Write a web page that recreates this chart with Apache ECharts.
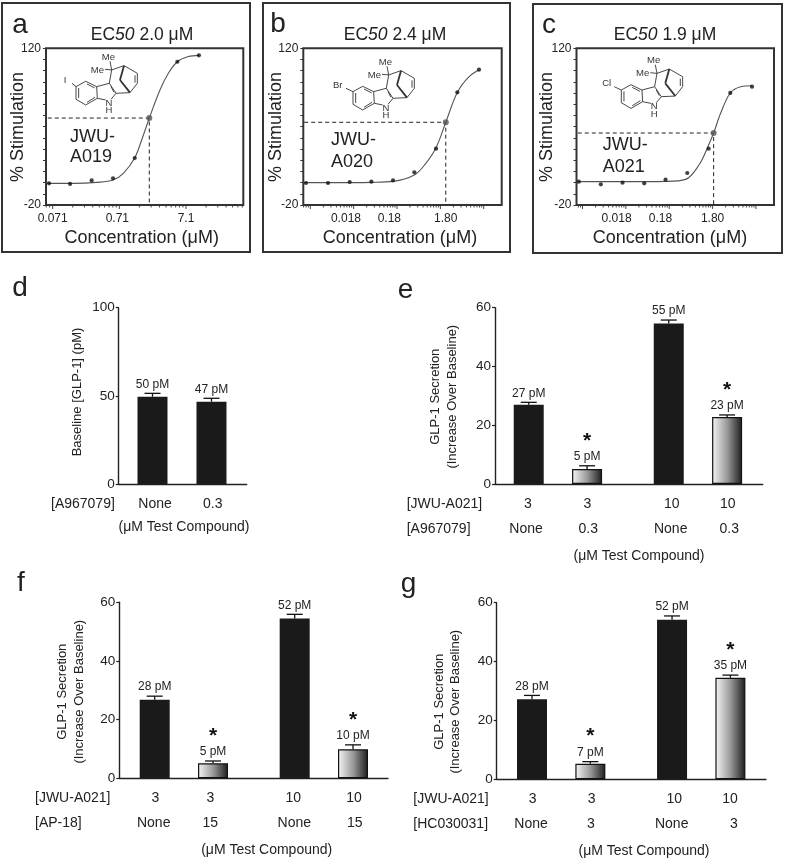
<!DOCTYPE html>
<html><head><meta charset="utf-8">
<style>html,body{margin:0;padding:0;background:#fff}#c{width:787px;height:861px}</style>
<script src="https://cdn.jsdelivr.net/npm/echarts@6/dist/echarts.min.js"></script>
</head><body><div id="c"></div>
<script>
// ---- dose-response data (panels a, b, c)
const aPointConc=[0.0626,0.1295,0.273,0.571,1.21,2.0,5.27,11.1];
const aPointResp=[-0.6,-1.2,2,3.8,22,57.7,108,113.7];
const aCurveConc=[0.0564,0.145,0.3245,0.5705,0.815,1.206,1.536,2.0,2.89,3.86,5.26,7.7,11.1];
const aCurveResp=[-0.65,-0.65,0.25,2.3,8.3,22,38.1,57.7,82.7,97.7,108,112.6,113.7];
const bPointConc=[0.00143,0.00461,0.01456,0.0461,0.1456,0.452,1.43,2.4,4.44,14.0];
const bPointResp=[-0.35,-0.35,0.55,0.85,2,9.2,30.3,53.9,80.7,100.9];
const bCurveConc=[0.00124,0.00611,0.0461,0.1456,0.452,0.797,1.43,2.4,4.44,7.97,14.0];
const bCurveResp=[-0.05,-0.05,0.25,1.1,6.8,16.3,31.2,53.9,80.7,94.1,100.9];
const cPointConc=[0.00148,0.00477,0.01508,0.0477,0.148,0.468,1.456,1.9,4.6,14.56];
const cPointResp=[0.84,-1.5,-0.05,-0.65,2.6,8.6,30.3,44.3,80.1,85.7];
const cCurveConc=[0.00131,0.01356,0.148,0.429,0.871,1.456,1.9,2.75,4.6,7.97,14.56];
const cCurveResp=[0.84,0.84,1.1,2.9,15.7,33.6,44.3,61.9,80.1,85.7,86.6];
const aEC50=[2.0,57.7], bEC50=[2.4,53.9], cEC50=[1.9,44.3];
const aTickLabels=['0.071','0.71','7.1'], aTickValues=[0.071,0.71,7.1];
const bcTickLabels=['0.018','0.18','1.80'], bcTickValues=[0.018,0.18,1.8];
// ---- GLP-1 secretion data (panels d, e, f, g)
const dValues=[49.6,46.8], dErrTop=[51.5,48.7], dLabels=['50 pM','47 pM'];
const eValues=[27,5.1,54.6,22.8], eErrTop=[27.8,6.2,55.8,23.5], eLabels=['27 pM','5 pM','55 pM','23 pM'];
const fValues=[26.8,5.1,54.5,9.9], fErrTop=[28,5.9,55.9,11.4], fLabels=['28 pM','5 pM','52 pM','10 pM'];
const gValues=[27.2,5.3,54.2,34.5], gErrTop=[28.5,6,55.5,35.4], gLabels=['28 pM','7 pM','52 pM','35 pM'];
const dRow1=['None','0.3'];
const eRow1=['3','3','10','10'], eRow2=['None','0.3','None','0.3'];
const fRow1=['3','3','10','10'], fRow2=['None','15','None','15'];
const gRow1=['3','3','10','10'], gRow2=['None','3','None','3'];
const slots4=[1,2,3.4,4.4], slots2=[1,2];
const treated4=[false,true,false,true];

const FF='"Liberation Sans",Arial,sans-serif', INK='#222';
const minorMult=[2,3,4,5,6,7,8,9];
const chart=echarts.init(document.getElementById('c'),null,{renderer:'canvas'});
const grid=[],xAxis=[],yAxis=[],series=[],graphic=[];

function T(text,x,y,size,o){o=o||{};
  graphic.push({type:'text',x,y,rotation:o.rot||0,z:20,silent:true,
    style:{text,fontSize:size,fontFamily:FF,fill:o.fill||INK,fontWeight:o.w||'normal',
      align:o.align||'center',verticalAlign:'middle',rich:o.rich}});
}

// Molecule sketch: layout only, not data (offsets from the N atom)
const bondsSingle=[[[108,140],[137,124]],[[137,124],[170,140]],[[170,140],[172,175]],[[172,175],[137,195]],[[137,195],[108,178]],[[108,178],[108,140]],
  [[170,140],[208,130]],[[208,130],[228,160]],[[228,160],[213,178]],[[197,180],[172,175]],
  [[208,130],[215,90]],[[215,90],[252,77]],[[252,77],[292,100]],[[292,100],[292,130]],[[292,130],[270,158]],[[228,160],[270,158]],
  [[195,88],[215,90]],[[210,64],[215,90]]];
const bondsInner=[[[116,144],[116,174]],[[141,132],[164,144]],[[141,187],[165,172]],[[213,140],[222,157]],[[285,106],[285,128]]];
const bondsBold=[[[252,77],[240,120]],[[240,120],[270,158]]];
function molecule(nx,ny,hal,hx,hy,bx,by){
  const P=p=>[(p[0]-207)/3,(p[1]-190)/3];
  const kids=[];
  const add=(a,b,w)=>kids.push({type:'line',shape:{x1:P(a)[0],y1:P(a)[1],x2:P(b)[0],y2:P(b)[1]},style:{stroke:'#333',lineWidth:w},silent:true});
  bondsSingle.forEach(s=>add(s[0],s[1],0.9));
  bondsInner.forEach(s=>add(s[0],s[1],0.9));
  bondsBold.forEach(s=>add(s[0],s[1],1.8));
  kids.push({type:'line',shape:{x1:bx,y1:by,x2:P([108,140])[0],y2:P([108,140])[1]},style:{stroke:'#333',lineWidth:0.9},silent:true});
  const tx=(t,x,y)=>kids.push({type:'text',x,y,silent:true,style:{text:t,fontSize:9.5,fontFamily:FF,fill:'#333',align:'center',verticalAlign:'middle'}});
  tx('N',0,0);tx('H',0,7.5);
  tx('Me',P([205,52])[0],P([205,52])[1]);tx('Me',P([172,90])[0],P([172,90])[1]);
  tx(hal,hx,hy);
  graphic.push({type:'group',x:nx,y:ny,z:15,silent:true,children:kids});
}

function dosePanel(o){
  const i=grid.length;
  grid.push({left:o.left,top:48.3,width:o.right-o.left,height:156.7,show:true,borderColor:'#333',borderWidth:2,backgroundColor:'transparent'});
  xAxis.push({type:'log',logBase:10,gridIndex:i,min:o.xMin,max:o.xMax,axisLine:{show:false,onZero:false},axisTick:{show:false},axisLabel:{show:false},splitLine:{show:false},minorTick:{show:false}});
  yAxis.push({type:'value',gridIndex:i,min:-20,max:120,interval:10,axisLine:{show:false,onZero:false},splitLine:{show:false},
    axisTick:{show:true,length:3,lineStyle:{color:'#333',width:1}},
    axisLabel:{margin:5,fontSize:12,fontFamily:FF,color:INK,formatter:v=>(v===120||v===-20)?String(v):''}});
  const base={xAxisIndex:i,yAxisIndex:i,animation:false,silent:true};
  series.push(Object.assign({},base,{type:'line',data:o.cx.map((c,k)=>[c,o.cy[k]]),smooth:0.35,showSymbol:false,symbol:'none',lineStyle:{color:'#555',width:1.1},z:3}));
  series.push(Object.assign({},base,{type:'line',data:[[o.dashFrom,o.ec[1]],[o.ec[0],o.ec[1]],[o.ec[0],-20]],symbol:'none',lineStyle:{color:'#222',width:1,type:[4,3]},z:2}));
  series.push(Object.assign({},base,{type:'scatter',data:o.px.map((c,k)=>({value:[c,o.py[k]],symbolSize:c===o.ec[0]?6:4.2,itemStyle:{color:c===o.ec[0]?'#555':'#111'}})),z:4}));
  // ticks on the log x axis, placed through its own scale
  const ticks=[];
  o.majors.forEach(v=>ticks.push([v,-20,1]));
  o.minorBases.forEach(b=>minorMult.forEach(m=>{const v=b*m;if(v>=o.xMin&&v<=o.xMax)ticks.push([v,-20,0]);}));
  series.push(Object.assign({},base,{type:'custom',data:ticks,clip:false,z:5,
    renderItem:(p,api)=>{const c=api.coord([api.value(0),-20]),L=api.value(2)?4:2.5;
      return {type:'line',shape:{x1:c[0],y1:c[1],x2:c[0],y2:c[1]+L},style:{stroke:'#333',lineWidth:0.9},silent:true};}}));
  series.push(Object.assign({},base,{type:'custom',data:o.labelVals.map(v=>[v,-20]),clip:false,z:5,
    renderItem:(p,api)=>{const c=api.coord([api.value(0),-20]);
      return {type:'text',x:c[0]+o.labelShift[p.dataIndex],y:218.3,silent:true,
        style:{text:o.labels[p.dataIndex],fontSize:12,fontFamily:FF,fill:INK,align:'center',verticalAlign:'middle'}};}}));
  graphic.push({type:'rect',shape:{x:o.frame[0],y:o.frame[1],width:o.frame[2]-o.frame[0],height:o.frame[3]-o.frame[1]},style:{fill:'none',stroke:'#333',lineWidth:2},z:1,silent:true});
  T(o.letter,o.letterX,o.letterY,28);
  T('EC{i|50} '+o.ecText+' μM',o.titleX,35,17.5,{rich:{i:{fontStyle:'italic',fontSize:17.5,fontFamily:FF,fill:INK}}});
  T('% Stimulation',o.yTitleX,127,18,{rot:Math.PI/2});
  T('Concentration (μM)',o.xTitleX,238.3,18);
  T('JWU-',o.nameX,o.nameY[0],18,{align:'left'});
  T(o.name,o.nameX,o.nameY[1],18,{align:'left'});
}

function barPanel(o){
  const i=grid.length;
  grid.push({left:o.left,top:o.top,width:o.right-o.left,height:o.bottom-o.top,show:false});
  xAxis.push({type:'value',gridIndex:i,min:o.xMin,max:o.xMax,axisLine:{show:true,onZero:false,lineStyle:{color:'#222',width:1.4}},axisTick:{show:false},axisLabel:{show:false},splitLine:{show:false}});
  yAxis.push({type:'value',gridIndex:i,min:0,max:o.yMax,interval:o.yStep,axisLine:{show:true,onZero:false,lineStyle:{color:'#222',width:1.4}},
    axisTick:{show:true,length:3,lineStyle:{color:'#222',width:1.2}},splitLine:{show:false},
    axisLabel:{margin:4,fontSize:13.5,fontFamily:FF,color:INK}});
  const base={xAxisIndex:i,yAxisIndex:i,animation:false,silent:true};
  const grad={type:'linear',x:0,y:0,x2:1,y2:0,colorStops:[{offset:0,color:'#f6f6f6'},{offset:0.5,color:'#9a9a9a'},{offset:1,color:'#1c1c1c'}]};
  series.push(Object.assign({},base,{type:'bar',barWidth:30,z:3,
    data:o.values.map((v,k)=>({value:[o.slots[k],v],itemStyle:o.treated&&o.treated[k]?{color:grad,borderColor:'#111',borderWidth:1.2}:{color:'#1a1a1a'}}))}));
  series.push(Object.assign({},base,{type:'custom',clip:false,z:4,
    data:o.values.map((v,k)=>[o.slots[k],v,o.err[k]]),
    renderItem:(p,api)=>{
      const k=p.dataIndex,b=api.coord([api.value(0),api.value(1)]),t=api.coord([api.value(0),api.value(2)]);
      const st={stroke:'#111',lineWidth:1.3};
      const ch=[{type:'line',shape:{x1:b[0],y1:b[1],x2:t[0],y2:t[1]},style:st},
        {type:'line',shape:{x1:t[0]-8,y1:t[1],x2:t[0]+8,y2:t[1]},style:st},
        {type:'text',x:t[0],y:t[1]-9,style:{text:o.labels[k],fontSize:12,fontFamily:FF,fill:INK,align:'center',verticalAlign:'middle'}}];
      if(o.treated&&o.treated[k]) ch.push({type:'text',x:t[0],y:t[1]-25,style:{text:'*',fontSize:21,fontWeight:'bold',fontFamily:FF,fill:'#111',align:'center',verticalAlign:'middle'}});
      return {type:'group',silent:true,children:ch};
    }}));
  T(o.letter,o.letterX,o.letterY,28);
  o.yTitle.forEach((s,k)=>T(s,o.yTitleX[k],o.yTitleY,13,{rot:Math.PI/2}));
  o.rows.forEach(r=>{T(r.name,o.rowLeft,r.y,14,{align:'left'});
    r.text.forEach((s,k)=>T(s,r.x[k],r.y,14));});
  T('(μM Test Compound)',o.noteX,o.noteY,14);
}

dosePanel({letter:'a',letterX:20,letterY:25,frame:[2,3,250,252],left:46,right:243.3,xMin:0.0564,xMax:51.4,
  px:aPointConc,py:aPointResp,cx:aCurveConc,cy:aCurveResp,ec:aEC50,dashFrom:0.0600,
  majors:aTickValues,minorBases:[0.0071,0.071,0.71,7.1],labels:aTickLabels,labelVals:aTickValues,labelShift:[0,-2,0],
  ecText:'2.0',titleX:142,yTitleX:18.3,xTitleX:141.7,name:'A019',nameX:70,nameY:[136.7,157.3]});
dosePanel({letter:'b',letterX:278,letterY:24,frame:[263,3,510,252],left:303.3,right:501.7,xMin:0.00124,xMax:46.8,
  px:bPointConc,py:bPointResp,cx:bCurveConc,cy:bCurveResp,ec:bEC50,dashFrom:0.00130,
  majors:[0.0018,0.018,0.18,1.8,18],minorBases:[0.00018,0.0018,0.018,0.18,1.8],labels:bcTickLabels,labelVals:bcTickValues,labelShift:[-7.7,-7.7,5.3],
  ecText:'2.4',titleX:395,yTitleX:275.7,xTitleX:400,name:'A020',nameX:331,nameY:[140,161.7]});
dosePanel({letter:'c',letterX:549,letterY:25,frame:[533,4,782,253],left:576.5,right:774,xMin:0.00131,xMax:46.8,
  px:cPointConc,py:cPointResp,cx:cCurveConc,cy:cCurveResp,ec:cEC50,dashFrom:0.00140,
  majors:[0.0018,0.018,0.18,1.8,18],minorBases:[0.00018,0.0018,0.018,0.18,1.8],labels:bcTickLabels,labelVals:bcTickValues,labelShift:[-9.3,-8.7,0],
  ecText:'1.9',titleX:665,yTitleX:547.3,xTitleX:670,name:'A021',nameX:602.7,nameY:[145,166.7]});
molecule(109,103.3,'I',-44,-22.6,-37,-20);
molecule(386,108.3,'Br',-48.3,-23.3,-40,-20);
molecule(654.3,106.7,'Cl',-47.6,-23.4,-40,-20);

barPanel({letter:'d',letterX:20,letterY:288,left:118.7,right:246.7,top:307.7,bottom:484.3,xMin:0.427,xMax:2.597,yMax:100,yStep:50,
  slots:slots2,values:dValues,err:dErrTop,labels:dLabels,
  yTitle:['Baseline [GLP-1] (pM)'],yTitleX:[77],yTitleY:392,rowLeft:51,
  rows:[{name:'[A967079]',y:504,text:dRow1,x:[155,212.7]}],noteX:184,noteY:527});
barPanel({letter:'e',letterX:405.5,letterY:290,left:495,right:762.7,top:307.7,bottom:484,xMin:0.422,xMax:5.01,yMax:60,yStep:20,
  slots:slots4,treated:treated4,values:eValues,err:eErrTop,labels:eLabels,
  yTitle:['GLP-1 Secretion','(Increase Over Baseline)'],yTitleX:[435.7,452],yTitleY:396.7,rowLeft:406.7,
  rows:[{name:'[JWU-A021]',y:504,text:eRow1,x:[528,587.3,671.7,727.7]},{name:'[A967079]',y:529,text:eRow2,x:[526,588.3,670.7,729.3]}],noteX:639,noteY:555.7});
barPanel({letter:'f',letterX:21,letterY:583,left:119.3,right:388,top:602.3,bottom:778.3,xMin:0.393,xMax:5.0,yMax:60,yStep:20,
  slots:slots4,treated:treated4,values:fValues,err:fErrTop,labels:fLabels,
  yTitle:['GLP-1 Secretion','(Increase Over Baseline)'],yTitleX:[62.3,79],yTitleY:691.7,rowLeft:35,
  rows:[{name:'[JWU-A021]',y:797.7,text:fRow1,x:[155.3,210.3,293.3,354]},{name:'[AP-18]',y:823.3,text:fRow2,x:[153.7,210.3,294.3,354.7]}],noteX:266.7,noteY:850});
barPanel({letter:'g',letterX:408.5,letterY:584.5,left:496.7,right:766,top:602.7,bottom:779.3,xMin:0.395,xMax:5.01,yMax:60,yStep:20,
  slots:slots4,treated:treated4,values:gValues,err:gErrTop,labels:gLabels,
  yTitle:['GLP-1 Secretion','(Increase Over Baseline)'],yTitleX:[439,455.7],yTitleY:701.7,rowLeft:413.3,
  rows:[{name:'[JWU-A021]',y:798.7,text:gRow1,x:[532.7,591.7,674.3,730]},{name:'[HC030031]',y:824.3,text:gRow2,x:[531,591,671.7,734]}],noteX:644,noteY:851});

chart.setOption({animation:false,backgroundColor:'#fff',grid,xAxis,yAxis,series,graphic});
</script></body></html>
